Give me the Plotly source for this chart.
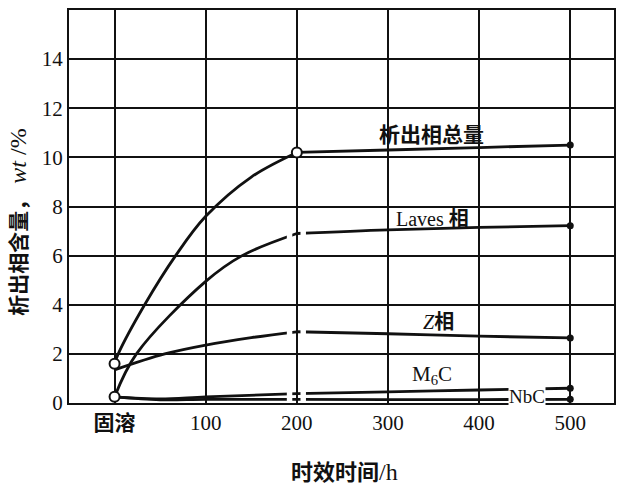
import plotly.graph_objects as go

# ---- data ----
tick_vals = [0, 100, 200, 300, 400, 500]
tick_text = ["<b>固溶</b>", "100", "200", "300", "400", "500"]
y_ticks = [0, 2, 4, 6, 8, 10, 12, 14]

total_h = [0, 4, 33, 67, 100, 150, 200, 300, 400, 500]
total_v = [1.6, 2.0, 4.0, 6.0, 7.6, 9.2, 10.2, 10.3, 10.4, 10.5]

laves_h = [0, 24, 100, 140, 200, 300, 400, 500]
laves_v = [0.25, 2.0, 4.95, 6.0, 6.9, 7.05, 7.15, 7.22]

z_h = [0, 55, 100, 150, 200, 300, 400, 500]
z_v = [1.35, 2.0, 2.36, 2.66, 2.9, 2.82, 2.72, 2.65]

m6c_h = [0, 50, 100, 200, 300, 400, 500]
m6c_v = [0.25, 0.17, 0.25, 0.38, 0.45, 0.53, 0.6]

nbc_h = [0, 50, 100, 200, 300, 400, 500]
nbc_v = [0.25, 0.13, 0.15, 0.15, 0.14, 0.14, 0.15]

FONT = "Liberation Serif, Noto Sans CJK SC, serif"
BLACK = "#111111"

fig = go.Figure()

series = [(total_h, total_v), (laves_h, laves_v), (z_h, z_v),
          (m6c_h, m6c_v), (nbc_h, nbc_v)]
for h, v in series:
    k = h.index(200)
    for hs, vs in [(h[:k + 1], v[:k + 1]), (h[k:], v[k:])]:
        fig.add_trace(go.Scatter(x=hs, y=vs, mode="lines",
                                 line=dict(color=BLACK, width=2.8, shape="spline", smoothing=1.0),
                                 showlegend=False, hoverinfo="skip"))

# filled end dots at 500 h
fig.add_trace(go.Scatter(x=[h[-1] for h, v in series], y=[v[-1] for h, v in series],
                         mode="markers", marker=dict(color=BLACK, size=7),
                         showlegend=False, hoverinfo="skip"))

# open circles
k_t = total_h.index(200)
fig.add_trace(go.Scatter(x=[total_h[0], laves_h[0], total_h[k_t]],
                         y=[total_v[0], laves_v[0], total_v[k_t]],
                         mode="markers",
                         marker=dict(color="white", size=10, line=dict(color=BLACK, width=2)),
                         showlegend=False, hoverinfo="skip"))

# dash-dot breaks around 200 h for the broken curves
shapes = []
def gap(y0, y1):
    for xa, xb in [(189, 195), (204, 210)]:
        shapes.append(dict(type="rect", xref="x", yref="y", x0=xa, x1=xb, y0=y0, y1=y1,
                           fillcolor="white", line=dict(width=0), layer="above"))
gap(laves_v[laves_h.index(200)] - 0.3, laves_v[laves_h.index(200)] + 0.3)
gap(z_v[z_h.index(200)] - 0.3, z_v[z_h.index(200)] + 0.3)
gap(0.07, m6c_v[m6c_h.index(200)] + 0.25)

annotations = [
    dict(x=348, y=10.9, text="<b>析出相总量</b>", font=dict(size=21)),
    dict(x=349, y=7.5, text="Laves <b>相</b>", font=dict(size=20)),
    dict(x=355, y=3.3, text="<i>Z</i><b>相</b>", font=dict(size=20)),
    dict(x=348, y=1.12, text="M<sub>6</sub>C", font=dict(size=21)),
    dict(x=452, y=0.25, text="NbC", font=dict(size=19), bgcolor="white", borderpad=0),
    dict(x=18, y=222, xref="paper", yref="paper",
         text="<b>析出相含量，</b><span style='font-size:24px'> <i>wt</i> /%</span>",
         textangle=-90, font=dict(size=21)),
    dict(x=346, y=472, xref="paper", yref="paper",
         text="<b>时效时间</b><span style='font-size:24px'>/h</span>", font=dict(size=22)),
]
for a in annotations:
    a.setdefault("xref", "x")
    a.setdefault("yref", "y")
    a["showarrow"] = False
    a["font"].update(family=FONT, color=BLACK)
# convert pixel-positioned annotations to paper coords
W, H = 624, 498
ml, mr, mt, mb = 69, 8, 9, 95
for a in annotations:
    if a["xref"] == "paper":
        a["x"] = (a["x"] - ml) / (W - ml - mr)
        a["y"] = 1 - (a["y"] - mt) / (H - mt - mb)
        a["xanchor"] = "center"
        a["yanchor"] = "middle"

fig.update_layout(
    width=W, height=H,
    margin=dict(l=ml, r=mr, t=mt, b=mb),
    paper_bgcolor="white", plot_bgcolor="white",
    font=dict(family=FONT, color=BLACK, size=21),
    shapes=shapes, annotations=annotations,
    xaxis=dict(range=[-50, 548], tickvals=tick_vals, ticktext=tick_text,
               showgrid=True, gridcolor=BLACK, gridwidth=1.5,
               showline=True, linecolor=BLACK, linewidth=2, mirror=True,
               zeroline=False, ticks="", tickfont=dict(size=21, family=FONT)),
    yaxis=dict(range=[0, 16], tickvals=y_ticks,
               showgrid=True, gridcolor=BLACK, gridwidth=1.5,
               showline=True, linecolor=BLACK, linewidth=2, mirror=True,
               zeroline=False, ticks="", tickfont=dict(size=21, family=FONT)),
)

fig.write_html("out.html")
